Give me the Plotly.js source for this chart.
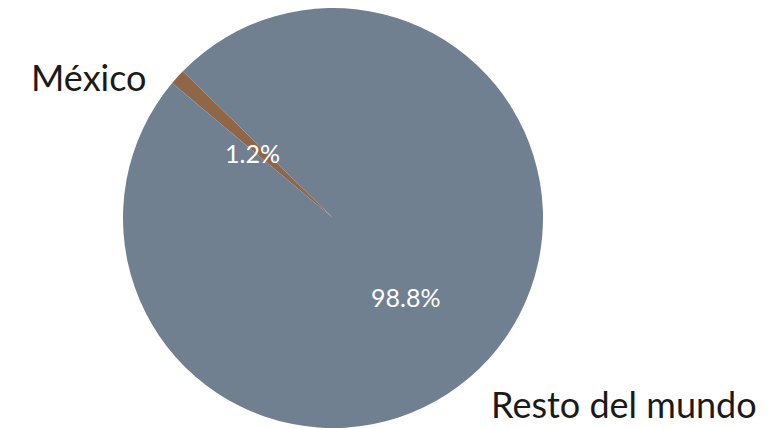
<!DOCTYPE html>
<html>
<head>
<meta charset="utf-8">
<script src="https://cdn.plot.ly/plotly-3.0.1.min.js"></script>
<style>html,body{margin:0;padding:0;background:#fff;}#chart{width:773px;height:428px;}</style>
</head>
<body>
<div id="chart"></div>
<script>
const categories = ["México", "Resto del mundo"];
const values = [1.2, 98.8];
const colors = ["#8f6647", "#708090"];

const W = 773, H = 428;
const total = values.reduce((a, b) => a + b, 0);
const pct = values.map(v => (v / total * 100).toFixed(1) + "%");

// text placements (pixels)
const labelPos = [
  {x: 149, y: 77, xanchor: "right"},
  {x: 489, y: 404, xanchor: "left"}
];
const pctPos = [
  {x: 253, y: 153},
  {x: 405, y: 297}
];

const fontFam = "Lato, 'Open Sans', sans-serif";
const annotations = [];
categories.forEach((c, i) => {
  annotations.push({
    text: c, xref: "paper", yref: "paper",
    x: labelPos[i].x / W, y: 1 - labelPos[i].y / H,
    xanchor: labelPos[i].xanchor, yanchor: "middle",
    showarrow: false, font: {family: fontFam, size: 36, color: "#1a1a1a"}
  });
  annotations.push({
    text: pct[i], xref: "paper", yref: "paper",
    x: pctPos[i].x / W, y: 1 - pctPos[i].y / H,
    xanchor: "center", yanchor: "middle",
    showarrow: false, font: {family: fontFam, size: 25, color: "#ffffff"}
  });
});

const trace = {
  type: "pie",
  labels: categories,
  values: values,
  sort: false,
  direction: "counterclockwise",
  rotation: -50,
  marker: {colors: colors, line: {width: 0}},
  textinfo: "none",
  hoverinfo: "label+percent",
  showlegend: false,
  domain: {x: [0, 666 / W], y: [0, 420 / H]}
};

const layout = {
  width: W, height: H,
  margin: {l: 0, r: 0, t: 0, b: 0},
  paper_bgcolor: "#ffffff",
  showlegend: false,
  annotations: annotations
};

Plotly.newPlot("chart", [trace], layout, {displayModeBar: false, staticPlot: true});
</script>
</body>
</html>
